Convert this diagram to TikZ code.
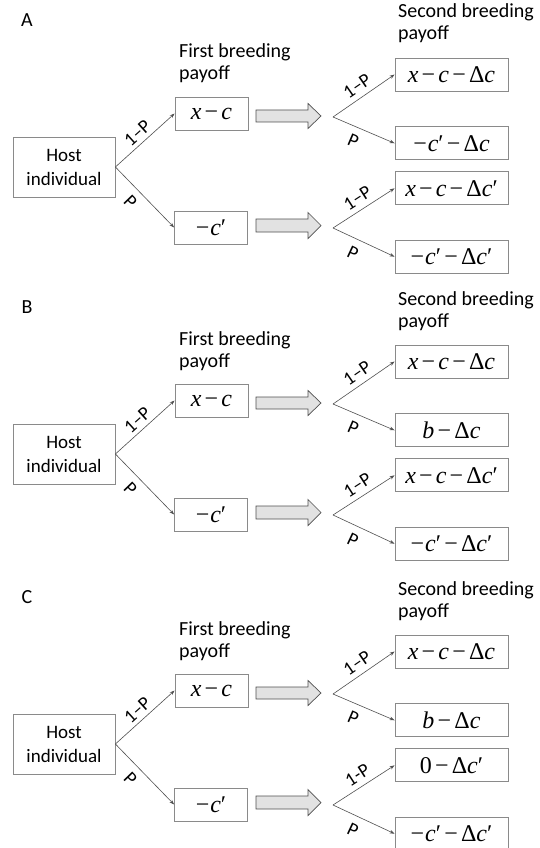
\documentclass[tikz,border=0pt]{standalone}
\usepackage{fontspec}
\setmainfont{Carlito}
\newfontfamily\tnr{Liberation Serif}
\usetikzlibrary{arrows.meta}
\definecolor{boxgray}{HTML}{8A8A8A}
\definecolor{linegray}{HTML}{505050}
\definecolor{arrowfill}{HTML}{E2E2E2}
\newcommand\vx{\textit{x}}
\newcommand\vc{\textit{c}}
\newcommand\vb{\textit{b}}
\newcommand\mn{\hspace{3.2pt}−\hspace{3.2pt}}
\newcommand\dc{Δ\textit{c}}
\tikzset{
  box/.style={draw=boxgray, line width=0.8pt, inner sep=0pt, minimum height=33pt,
    font=\tnr\fontsize{24}{24}\selectfont},
  hostbox/.style={draw=boxgray, line width=0.8pt, inner sep=0pt, minimum width=102pt,
    minimum height=60pt, align=center, font=\fontsize{19}{24}\selectfont},
  firstbox/.style={box, minimum width=73pt},
  secondbox/.style={box, minimum width=113pt},
  branch/.style={draw=linegray, line width=0.6pt, -{Stealth[length=5pt,width=3.5pt]}},
  plabel/.style={font=\fontsize{19}{19}\selectfont, sloped, inner sep=1pt},
  blockarrow/.style={draw=linegray, fill=arrowfill, line width=0.7pt, line join=miter},
  heading/.style={align=left, anchor=base west, inner sep=0pt, font=\fontsize{20}{22}\selectfont},
  letter/.style={font=\fontsize{20}{20}\selectfont, inner sep=0pt}
}
% #1 prefix, #2 y offset, #3 letter, #4 second box 2, #5 second box 3, #6 lower label
\newcommand\drawpanel[6]{%
\begin{scope}[shift={(0,#2)}]
  \node[letter] (#1let) at (27,20) {#3};
  \node[heading] (#1first) at (179,80) {First breeding\\payoff};
  \node[heading] (#1second) at (398,40) {Second breeding\\payoff};
  \node[hostbox] (#1host) at (64,167) {Host\\individual};
  \node[firstbox] (#1fa) at (211.5,113.5) {\vx\mn\vc};
  \node[firstbox] (#1fb) at (211,227.5) {−\hspace{1pt}\vc′};
  \node[secondbox] (#1sa) at (451.5,74.5) {\vx\mn\vc\mn\dc};
  \node[secondbox] (#1sb) at (451.5,143.3) {#4};
  \node[secondbox] (#1sc) at (451.5,188.3) {#5};
  \node[secondbox] (#1sd) at (451.5,256.7) {−\hspace{1pt}\vc′\mn\dc′};
  \coordinate (#1ja) at (333,117);
  \coordinate (#1jb) at (333,228);
  \draw[branch] (#1host.east) -- node[plabel, above=3pt, pos=0.49] {1–P} (#1fa.west);
  \draw[branch] (#1host.east) -- node[plabel, below=6pt, pos=0.42] {P} (#1fb.west);
  \draw[blockarrow] (256,110) -- (308,110) -- (308,103.5) -- (321,116)
     -- (308,128.5) -- (308,122) -- (256,122) -- cycle;
  \draw[blockarrow] (256,219) -- (308,219) -- (308,212.5) -- (321,225.5)
     -- (308,238.5) -- (308,232) -- (256,232) -- cycle;
  \draw[branch] (#1ja) -- node[plabel, above=4.5pt, pos=0.5] {1–P} (#1sa.west);
  \draw[branch] (#1ja) -- node[plabel, below=7pt, pos=0.42] {P} (#1sb.west);
  \draw[branch] (#1jb) -- node[plabel, above=4.5pt, pos=0.5] {#6} (#1sc.west);
  \draw[branch] (#1jb) -- node[plabel, below=7pt, pos=0.42] {P} (#1sd.west);
\end{scope}}
\begin{document}
\begin{tikzpicture}[x=1pt, y=-1pt]
  \useasboundingbox[fill=white] (0,0) rectangle (540,848);
  \drawpanel{a}{0}{A}{−\hspace{1pt}\vc′\mn\dc}{\vx\mn\vc\mn\dc′}{1–P}
  \drawpanel{b}{287}{B}{\vb\mn\dc}{\vx\mn\vc\mn\dc′}{1–P}
  \drawpanel{c}{577}{C}{\vb\mn\dc}{0\mn\dc′}{1-P}
\end{tikzpicture}
\end{document}
